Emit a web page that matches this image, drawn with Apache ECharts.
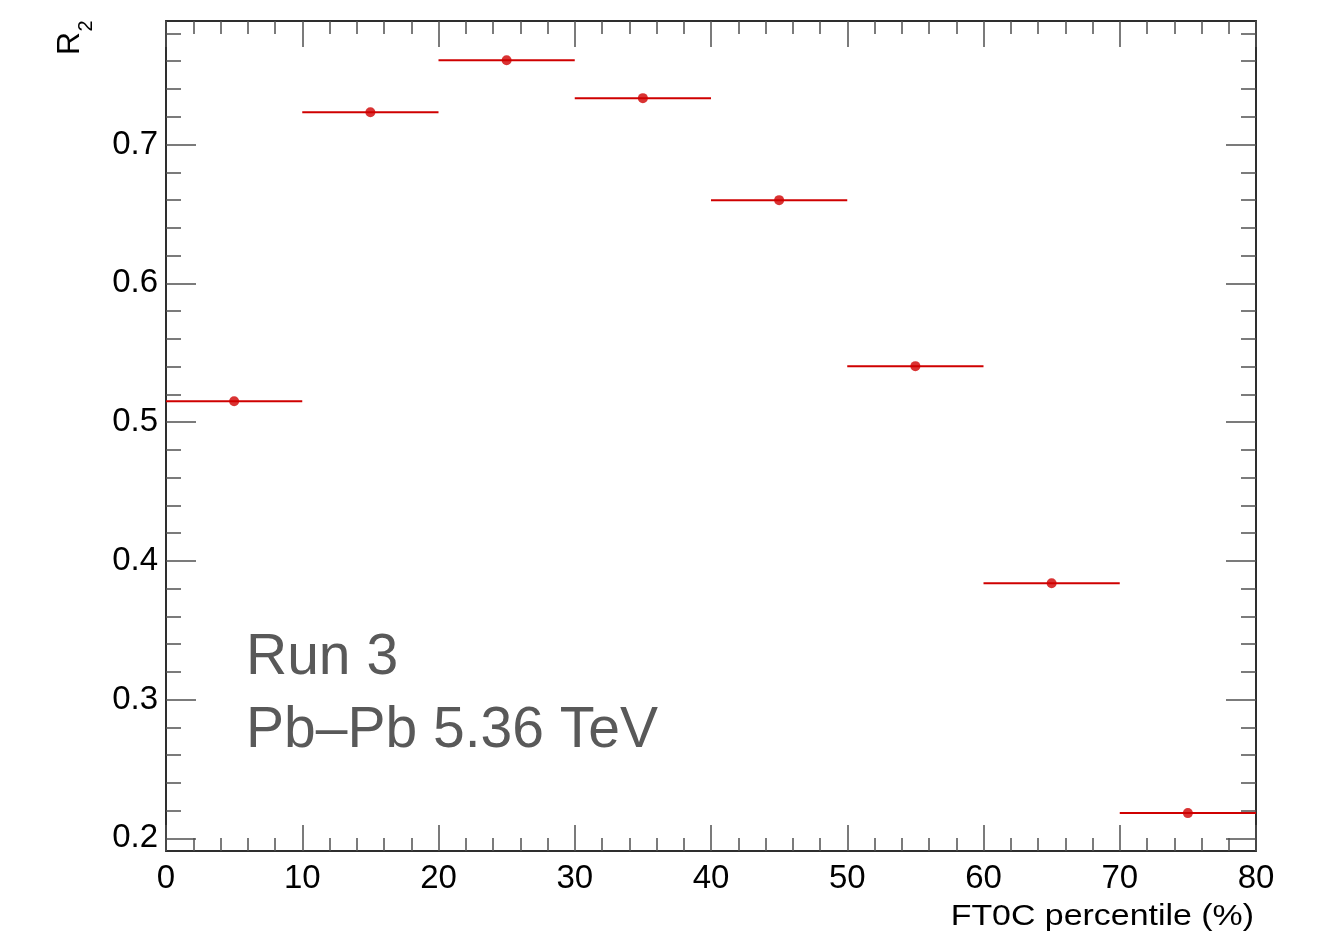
<!DOCTYPE html>
<html>
<head>
<meta charset="utf-8">
<script src="https://cdn.jsdelivr.net/npm/echarts@6/dist/echarts.min.js"></script>
<style>
html,body{margin:0;padding:0;background:#fff;}
#chart{width:1322px;height:936px;}
</style>
</head>
<body>
<div id="chart"></div>
<script>
// ---- data ----
const xCenters = [5, 15, 25, 35, 45, 55, 65, 75];
const xHalfWidth = [5, 5, 5, 5, 5, 5, 5, 5];
const r2Values = [0.515, 0.7233, 0.7607, 0.7334, 0.6599, 0.5403, 0.3839, 0.2182];
const xTickLabels = [0, 10, 20, 30, 40, 50, 60, 70, 80];
const yMajorTicks = [0.2, 0.3, 0.4, 0.5, 0.6, 0.7];
const yMinorTicks = [0.22, 0.24, 0.26, 0.28, 0.32, 0.34, 0.36, 0.38, 0.42, 0.44, 0.46, 0.48,
  0.52, 0.54, 0.56, 0.58, 0.62, 0.64, 0.66, 0.68, 0.72, 0.74, 0.76, 0.78];
const yRange = [0.1909, 0.789];
const xRange = [0, 80];
const xTitle = 'FT0C percentile (%)';
const yTitle = 'R';
const yTitleSub = '2';
const labelLine1 = 'Run 3';
const labelLine2 = 'Pb\u2013Pb 5.36 TeV';

const FONT = "'Liberation Sans', Arial, Helvetica, sans-serif";
const RED = '#cf0000';
const FRAME = '#2e2e2e';
const TICK = '#505050';

const chart = echarts.init(document.getElementById('chart'), null, {renderer: 'canvas'});

function xAx(pos, showLabel) {
  return {
    type: 'value', position: pos, min: xRange[0], max: xRange[1], interval: 10,
    axisLine: {show: true, onZero: false, lineStyle: {color: FRAME, width: 2}},
    axisTick: {show: true, inside: true, length: 26, lineStyle: {color: TICK, width: 1.5}},
    minorTick: {show: true, splitNumber: 5, length: 13, lineStyle: {color: TICK, width: 1.5}},
    axisLabel: {show: showLabel, color: '#000', fontSize: 33, fontFamily: FONT, margin: 11,
      customValues: xTickLabels},
    splitLine: {show: false}
  };
}
function yAx(pos, ticks, len, showLine, showLabel) {
  return {
    type: 'value', position: pos, min: yRange[0], max: yRange[1],
    axisLine: {show: showLine, onZero: false, lineStyle: {color: FRAME, width: 2}},
    axisTick: {show: true, inside: true, length: len, customValues: ticks,
      lineStyle: {color: TICK, width: 1.5}},
    axisLabel: {show: showLabel, color: '#000', fontSize: 33, fontFamily: FONT, margin: 8,
      customValues: ticks, formatter: v => v.toFixed(1)},
    splitLine: {show: false}
  };
}

const option = {
  backgroundColor: '#fff',
  animation: false,
  grid: {left: 166, right: 66, top: 21, bottom: 85, containLabel: false},
  xAxis: [
    xAx('bottom', true),
    xAx('top', false)
  ],
  yAxis: [
    yAx('left', yMajorTicks, 30, true, true),
    yAx('left', yMinorTicks, 15, false, false),
    yAx('right', yMajorTicks, 30, true, false),
    yAx('right', yMinorTicks, 15, false, false)
  ],
  series: [
    {
      type: 'custom',
      xAxisIndex: 0, yAxisIndex: 0,
      data: xCenters.map((x, i) => [x, r2Values[i], xHalfWidth[i]]),
      renderItem: function (params, api) {
        const x = api.value(0), y = api.value(1), e = api.value(2);
        const p1 = api.coord([x - e, y]);
        const p2 = api.coord([x + e, y]);
        return {
          type: 'line',
          shape: {x1: p1[0], y1: p1[1], x2: p2[0], y2: p2[1]},
          style: {stroke: RED, lineWidth: 2}
        };
      },
      z: 3
    },
    {
      type: 'scatter',
      xAxisIndex: 0, yAxisIndex: 0,
      data: xCenters.map((x, i) => [x, r2Values[i]]),
      symbol: 'circle', symbolSize: 10,
      itemStyle: {color: RED},
      z: 4
    }
  ],
  graphic: [
    {type: 'text', x: 1254, y: 916.5, scaleX: 1.13,
      style: {text: xTitle, fontSize: 30, fontFamily: FONT, fill: '#000',
        textAlign: 'right', textVerticalAlign: 'middle'}},
    {type: 'text', x: 70, y: 43.5, rotation: Math.PI / 2,
      style: {text: yTitle, fontSize: 32, fontFamily: FONT, fill: '#000',
        textAlign: 'center', textVerticalAlign: 'middle'}},
    {type: 'text', x: 86, y: 26, rotation: Math.PI / 2,
      style: {text: yTitleSub, fontSize: 20, fontFamily: FONT, fill: '#000',
        textAlign: 'center', textVerticalAlign: 'middle'}},
    {type: 'text', x: 246, y: 658,
      style: {text: labelLine1, fontSize: 57, fontFamily: FONT, fill: '#595959',
        textAlign: 'left', textVerticalAlign: 'middle'}},
    {type: 'text', x: 246, y: 731,
      style: {text: labelLine2, fontSize: 57, fontFamily: FONT, fill: '#595959',
        textAlign: 'left', textVerticalAlign: 'middle'}}
  ]
};
chart.setOption(option);
</script>
</body>
</html>
